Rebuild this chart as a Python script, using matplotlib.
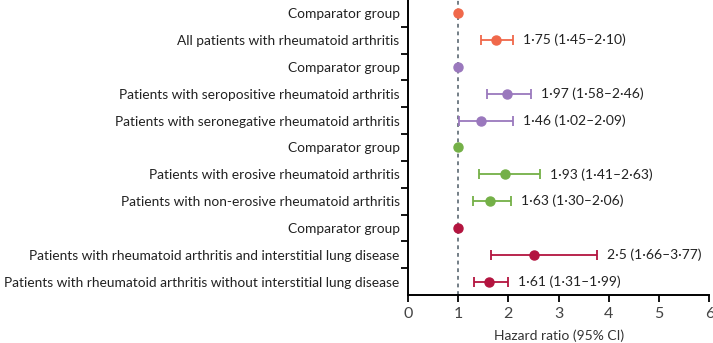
import matplotlib
matplotlib.use('Agg')
import matplotlib.pyplot as plt
import numpy as np

plt.rcParams['font.family'] = ['Lato', 'DejaVu Sans']

labels = [
    'Comparator group',
    'All patients with rheumatoid arthritis',
    'Comparator group',
    'Patients with seropositive rheumatoid arthritis',
    'Patients with seronegative rheumatoid arthritis',
    'Comparator group',
    'Patients with erosive rheumatoid arthritis',
    'Patients with non-erosive rheumatoid arthritis',
    'Comparator group',
    'Patients with rheumatoid arthritis and interstitial lung disease',
    'Patients with rheumatoid arthritis without interstitial lung disease',
]
hr = [1.0, 1.75, 1.0, 1.97, 1.46, 1.0, 1.93, 1.63, 1.0, 2.5, 1.61]
lower = [None, 1.45, None, 1.58, 1.02, None, 1.41, 1.30, None, 1.66, 1.31]
upper = [None, 2.10, None, 2.46, 2.09, None, 2.63, 2.06, None, 3.77, 1.99]
hr_text = [None, '1·75 (1·45–2·10)', None, '1·97 (1·58–2·46)', '1·46 (1·02–2·09)', None,
           '1·93 (1·41–2·63)', '1·63 (1·30–2·06)', None, '2·5 (1·66–3·77)', '1·61 (1·31–1·99)']
groups = [0, 0, 1, 1, 1, 2, 2, 2, 3, 3, 3]
group_colors = ['#f0684a', '#9a78bd', '#74b047', '#b3143f']

fig = plt.figure(figsize=(7.13, 3.43), dpi=100)
ax = fig.add_axes([0.572, 0.14, 0.423, 0.86])

ax.axvline(1, color='#4d5b66', linestyle=(0, (2.5, 2.5)), linewidth=1.1, zorder=1)

for i in range(len(labels)):
    c = group_colors[groups[i]]
    if lower[i] is not None:
        ax.errorbar(hr[i], i, xerr=[[hr[i] - lower[i]], [upper[i] - hr[i]]], fmt='o', color=c,
                    markersize=6.5, elinewidth=1.3, capsize=3.5, capthick=1.3, zorder=3)
        ax.annotate(hr_text[i], xy=(upper[i], i), xytext=(7, 0), textcoords='offset points',
                    va='center', ha='left', fontsize=10, color='#222222')
    else:
        ax.plot(hr[i], i, 'o', color=c, markersize=6.5, zorder=3)

ax.set_xlim(0, 6)
ax.set_ylim(len(labels) - 0.5, -0.5)
ax.set_xticks(range(0, 7))
ax.set_yticks(range(len(labels)))
ax.set_yticklabels(labels)
ax.set_yticks(np.arange(0.5, len(labels) - 0.5, 1), minor=True)
ax.tick_params(axis='y', which='major', length=0, pad=6, labelsize=9.9, labelcolor='#222222')
ax.tick_params(axis='y', which='minor', length=5, width=1.3, direction='out')
ax.tick_params(axis='x', length=5, width=1.3, labelsize=11.5, labelcolor='#444444')
ax.set_xlabel('Hazard ratio (95% CI)', fontsize=10, color='#333333', labelpad=6)

for s in ['top', 'right']:
    ax.spines[s].set_visible(False)
for s in ['left', 'bottom']:
    ax.spines[s].set_linewidth(1.4)

fig.savefig('out.png', dpi=100)
